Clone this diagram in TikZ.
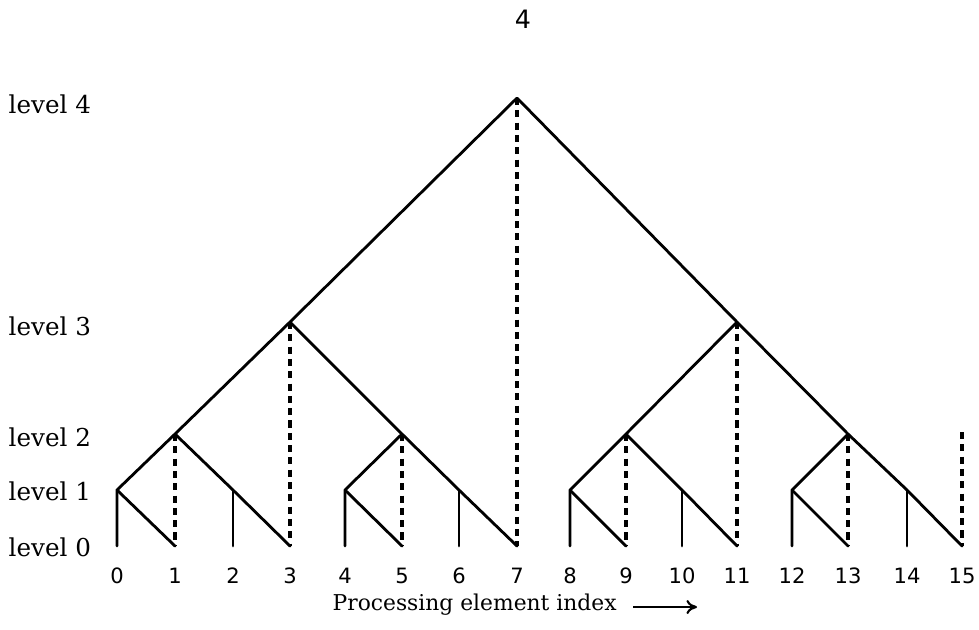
\documentclass[tikz,border=0pt]{standalone}
\usepackage{fontspec}
\newfontfamily\lblfont{DejaVu Serif}
\newfontfamily\numfont{DejaVu Sans}
\usetikzlibrary{arrows.meta}
\begin{document}
\begin{tikzpicture}[x=0.01cm,y=-0.01cm,
  edge/.style={line width=0.8pt,line cap=round,line join=round},
  dedge/.style={line width=1.0pt,dash pattern=on 2pt off 1.5pt},
  lvl/.style={anchor=west,inner sep=0pt,font=\lblfont\fontsize{7pt}{8pt}\selectfont},
  idx/.style={inner sep=0pt,font=\numfont\fontsize{6pt}{7pt}\selectfont},
  pgnum/.style={inner sep=0pt,font=\numfont\fontsize{7.2pt}{8pt}\selectfont},
  captxt/.style={anchor=base west,inner sep=0pt,font=\lblfont\fontsize{6.2pt}{7pt}\selectfont}]
\useasboundingbox (0,0) rectangle (979,629);
% bottom points
\foreach \i/\x in {0/117,1/175,2/233,3/290,4/345,5/402,6/459,7/517,8/570,9/626,10/682,11/737,12/792,13/848,14/907,15/962}{
  \coordinate (b\i) at (\x,546);
  \node[idx] (n\i) at (\x,576) {\i};
}
% level 1
\coordinate (l1a) at (117,490);
\coordinate (l1b) at (233,490);
\coordinate (l1c) at (345,490);
\coordinate (l1d) at (459,490);
\coordinate (l1e) at (570,490);
\coordinate (l1f) at (682,490);
\coordinate (l1g) at (792,490);
\coordinate (l1h) at (907,490);
% level 2
\coordinate (l2a) at (175,434);
\coordinate (l2b) at (402,434);
\coordinate (l2c) at (626,434);
\coordinate (l2d) at (848,434);
\coordinate (l2e) at (962,432);
% level 3
\coordinate (l3a) at (290,322);
\coordinate (l3b) at (737,322);
% level 4
\coordinate (l4) at (517,98);
% solid edges
\draw[edge] (b0) -- (l1a) -- (l2a) -- (l3a) -- (l4) -- (l3b) -- (l2d) -- (l1h) -- (b15);
\draw[edge] (l1a) -- (b1);
\draw[edge] (l2a) -- (l1b) -- (b3);
\draw[edge] (l1b) -- (b2);
\draw[edge] (l3a) -- (l2b) -- (l1d) -- (b7);
\draw[edge] (l1d) -- (b6);
\draw[edge] (b4) -- (l1c) -- (l2b);
\draw[edge] (l1c) -- (b5);
\draw[edge] (l3b) -- (l2c) -- (l1e) -- (b8);
\draw[edge] (l1e) -- (b9);
\draw[edge] (l2c) -- (l1f) -- (b11);
\draw[edge] (l1f) -- (b10);
\draw[edge] (l2d) -- (l1g) -- (b12);
\draw[edge] (l1g) -- (b13);
\draw[edge] (l1h) -- (b14);
% dashed edges
\draw[dedge] (l2a) -- (b1);
\draw[dedge] (l3a) -- (b3);
\draw[dedge] (l2b) -- (b5);
\draw[dedge] (l4) -- (b7);
\draw[dedge] (l2c) -- (b9);
\draw[dedge] (l3b) -- (b11);
\draw[dedge] (l2d) -- (b13);
\draw[dedge] (l2e) -- (b15);
% level labels
\node[lvl] (lv4) at (8,104) {level 4};
\node[lvl] (lv3) at (8,326) {level 3};
\node[lvl] (lv2) at (8,437) {level 2};
\node[lvl] (lv1) at (8,491) {level 1};
\node[lvl] (lv0) at (8,547) {level 0};
% page number
\node[pgnum] (pg) at (523,19) {4};
% caption
\node[captxt] (caption) at (332,610) {Processing element index};
\coordinate (arrS) at (633,607);
\coordinate (arrE) at (697,607);
\draw[line width=0.6pt,-{To[length=3pt,width=4pt]}] (arrS) -- (arrE);
\end{tikzpicture}
\end{document}
